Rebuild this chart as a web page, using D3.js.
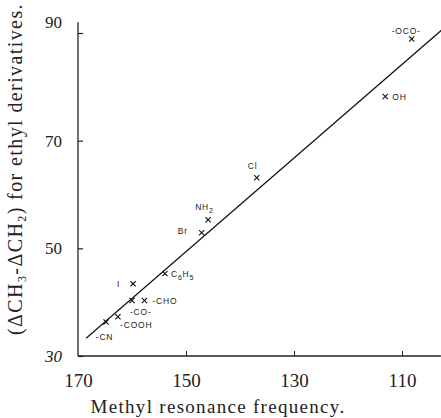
<!DOCTYPE html>
<html>
<head>
<meta charset="utf-8">
<script src="https://cdn.jsdelivr.net/npm/d3@7"></script>
<style>
  html, body { margin: 0; padding: 0; background: #fff; }
  svg { display: block; }
</style>
</head>
<body>
<svg id="chart" width="441" height="418"></svg>
<script>
// ---- data ----
const names  = ["-OCO-", "OH", "Cl", "NH2", "Br", "C6H5", "I", "CHO2", "-CHO", "-CO-", "-COOH", "-CN"];
const methyl = [108.2, 113.1, 136.9, 145.9, 147.1, 153.9, 159.8, 160.0, 157.7, 162.6, 164.8, 168.0];
const ethyl  = [88.9, 78.2, 63.1, 55.3, 52.9, 45.3, 43.4, 40.3, 40.3, 37.3, 36.3, 33.6];
const showMarker = [true, true, true, true, true, true, true, true, true, true, true, false];
const lineX = [168.5, 102.6];
const lineY = [33.3, 90.6];
const xTicks = [170, 150, 130, 110];
const yTicks = [30, 50, 70, 90];

// ---- label styling (offsets in px relative to marker) ----
const labelStyle = {
  "-OCO-": {dx: -20, dy: -5},
  "OH":    {dx: 7,  dy: 3},
  "Cl":    {dx: -9, dy: -9},
  "NH2":   {dx: -13, dy: -10},
  "Br":    {dx: -24, dy: 1},
  "C6H5":  {dx: 6,  dy: 3},
  "I":     {dx: -16, dy: 3},
  "CHO2":  null,
  "-CHO":  {dx: 8,  dy: 3},
  "-CO-":  {dx: 12, dy: -2},
  "-COOH": {dx: 14, dy: 6},
  "-CN":   {dx: 7, dy: 3}
};

const svg = d3.select("#chart");
const x = d3.scaleLinear().domain([170, 110]).range([78, 402]);
const y = d3.scaleLinear().domain([30, 90]).range([356, 33]);

const serif = "'Liberation Serif', 'DejaVu Serif', serif";
const sans = "'Liberation Sans', 'DejaVu Sans', sans-serif";

// axes
const yAxis = d3.axisLeft(y).tickValues(yTicks).tickSizeInner(-5).tickSizeOuter(0).tickPadding(16);
const gy = svg.append("g").attr("transform", `translate(${x(170)},0)`).call(yAxis);
gy.select(".domain").remove();
gy.selectAll("line").attr("stroke", "#222").attr("stroke-width", 1.2);
gy.selectAll("text").attr("font-family", serif).attr("font-size", 17).attr("fill", "#222")
  .attr("font-style", d => d === 30 ? "italic" : "normal")
  .attr("dy", d => d === 90 ? "-0.3em" : "0.32em");

const xAxis = d3.axisBottom(x).tickValues(xTicks).tickSizeInner(-5).tickSizeOuter(0).tickPadding(18);
const gx = svg.append("g").attr("transform", `translate(0,${y(30)})`).call(xAxis);
gx.select(".domain").remove();
gx.selectAll("line").attr("stroke", "#222").attr("stroke-width", 1);
gx.selectAll(".tick").filter(d => d === 170).select("line").remove();
gx.selectAll("text").attr("font-family", serif).attr("font-size", 19).attr("fill", "#222");

// axis lines
svg.append("line")
  .attr("x1", x(170)).attr("x2", x(170))
  .attr("y1", y(30)).attr("y2", y(92))
  .attr("stroke", "#222").attr("stroke-width", 1.3);
svg.append("line")
  .attr("x1", x(170)).attr("x2", x(102.8))
  .attr("y1", y(30)).attr("y2", y(30))
  .attr("stroke", "#222").attr("stroke-width", 1.3);

// regression line
svg.append("line")
  .attr("x1", x(lineX[0])).attr("y1", y(lineY[0]))
  .attr("x2", x(lineX[1])).attr("y2", y(lineY[1]))
  .attr("stroke", "#111").attr("stroke-width", 1.2);

// markers
const pts = names.map((n, i) => ({name: n, mx: methyl[i], ey: ethyl[i], mark: showMarker[i]}));
const s = 2.6;
const mk = svg.append("g").selectAll("g").data(pts.filter(d => d.mark)).join("g")
  .attr("transform", d => `translate(${x(d.mx)},${y(d.ey)})`);
mk.append("line").attr("x1", -s).attr("y1", -s).attr("x2", s).attr("y2", s).attr("stroke", "#111").attr("stroke-width", 1.1);
mk.append("line").attr("x1", -s).attr("y1", s).attr("x2", s).attr("y2", -s).attr("stroke", "#111").attr("stroke-width", 1.1);

// labels
function labelText(sel, name) {
  if (name === "NH2") {
    sel.append("tspan").text("NH");
    sel.append("tspan").attr("dy", 3).attr("font-size", 7).text("2");
  } else if (name === "C6H5") {
    sel.append("tspan").text("C");
    sel.append("tspan").attr("dy", 3).attr("font-size", 7).text("6");
    sel.append("tspan").attr("dy", -3).text("H");
    sel.append("tspan").attr("dy", 3).attr("font-size", 7).text("5");
  } else {
    sel.text(name);
  }
}
pts.forEach(d => {
  const st = labelStyle[d.name];
  if (!st) return;
  const t = svg.append("text")
    .attr("x", x(d.mx) + st.dx).attr("y", y(d.ey) + st.dy)
    .attr("font-family", sans).attr("font-size", 8.5).attr("fill", "#222")
    .attr("letter-spacing", 0.8);
  labelText(t, d.name);
});

// axis titles
svg.append("text")
  .attr("x", 218).attr("y", 413)
  .attr("text-anchor", "middle")
  .attr("font-family", serif).attr("font-size", 19).attr("fill", "#222")
  .attr("letter-spacing", 1.3)
  .text("Methyl resonance frequency.");

const yt = svg.append("text")
  .attr("transform", "translate(22,169) rotate(-90)")
  .attr("text-anchor", "middle")
  .attr("font-family", serif).attr("font-size", 20).attr("fill", "#222")
  .attr("letter-spacing", 1.4);
yt.append("tspan").text("(\u0394CH");
yt.append("tspan").attr("dy", 4).attr("font-size", 12).text("3");
yt.append("tspan").attr("dy", -4).text("-\u0394CH");
yt.append("tspan").attr("dy", 4).attr("font-size", 12).text("2");
yt.append("tspan").attr("dy", -4).text(") for ethyl derivatives.");
</script>
</body>
</html>
